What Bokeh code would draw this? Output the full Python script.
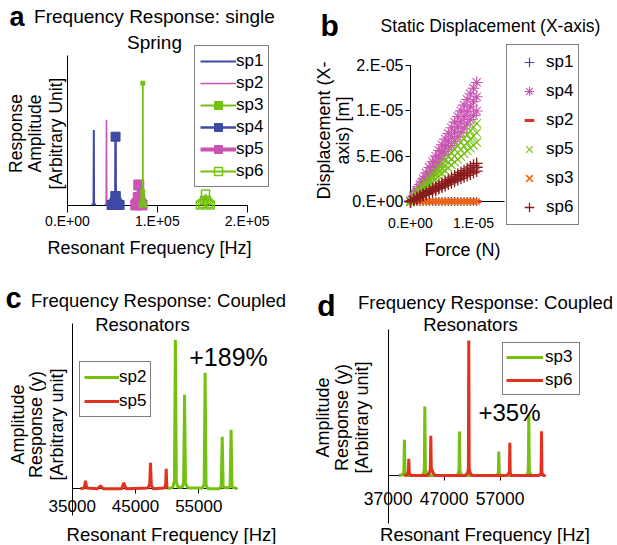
import math
from bokeh.plotting import figure
from bokeh.models import (Range1d, FixedTicker, Label, Legend, LegendItem,
                          CustomJSTickFormatter)
from bokeh.layouts import column, row
from bokeh.embed import file_html
from bokeh.resources import INLINE

FONT = "Liberation Sans"
BLUE = "#3f4aa6"
PINK = "#c955b3"
GREEN = "#74c112"
RED = "#e2321f"
ORANGE = "#f26a10"
DARKRED = "#8b1c1c"

# ---------------- Panel a: single spring frequency response ----------------
a_tick_values = [0, 100000, 200000]
a_tick_labels = ["0.E+00", "1.E+05", "2.E+05"]
a_sp1_freq = [27000, 29000, 29300, 29600, 31500]
a_sp1_amp = [0, 0.01, 0.502, 0.01, 0]
a_sp2_freq = [41500, 43100, 43400, 43700, 45500]
a_sp2_amp = [0, 0.01, 0.571, 0.01, 0]
a_sp3_freq = [82000, 83600, 83850, 83900, 83950, 84200, 86000]
a_sp3_amp = [0, 0.02, 0.089, 0.815, 0.05, 0.01, 0]
a_sp4_freq = [49000, 51000, 52500, 53300, 53500, 53700, 54500, 56000, 58000]
a_sp4_amp = [0, 0.005, 0.02, 0.06, 0.457, 0.06, 0.02, 0.005, 0]
a_sp5_freq = [76000, 77500, 78800, 79400, 80000, 81500, 83000]
a_sp5_amp = [0, 0.01, 0.05, 0.134, 0.05, 0.01, 0]
a_sp6_freq = [148000, 150500, 152500, 153700, 155000, 157000, 159000]
a_sp6_amp = [0, 0.01, 0.03, 0.073, 0.03, 0.01, 0]

# ---------------- Panel b: static displacement (micro units) ----------------
b_xtick_values = [0, 1e-5]
b_xtick_labels = ["0.E+00", "1.E-05"]
b_ytick_values = [0, 5e-6, 1e-5, 1.5e-5]
b_ytick_labels = ["0.E+00", "5.E-06", "1.E-05", "2.E-05"]
b_force_uN = [0, 0.5, 1, 1.5, 2, 2.5, 3, 3.5, 4, 4.5, 5, 5.5, 6, 6.5, 7, 7.5, 8, 8.5, 9, 9.5, 10, 10.5]
b_sp1_disp_um = [0, 0, 0, 0, 0, 0, 0, 0, 0, 0, 0, 0, 0, 0, 0, 0, 0, 0, 0, 0, 0, 0]
b_sp2_disp_um = [0, 0, 0, 0, 0, 0, 0, 0, 0, 0, 0, 0, 0, 0, 0, 0, 0, 0, 0, 0, 0, 0]
b_sp3_disp_um = [0, 0, 0, 0, 0, 0, 0, 0, 0, 0, 0, 0, 0, 0, 0, 0, 0, 0, 0, 0, 0, 0]
b_sp4_low_um = [0, 0.48, 0.95, 1.43, 1.90, 2.38, 2.85, 3.33, 3.80, 4.28, 4.75, 5.23, 5.70,
                6.18, 6.65, 7.13, 7.60, 8.08, 8.55, 9.03, 9.50, 9.98]
b_sp4_mid_um = [0, 0.55, 1.10, 1.65, 2.20, 2.75, 3.30, 3.85, 4.40, 4.95, 5.50, 6.05, 6.60,
                7.15, 7.70, 8.25, 8.80, 9.35, 9.90, 10.45, 11.00, 11.55]
b_sp4_high_um = [0, 0.63, 1.25, 1.88, 2.50, 3.13, 3.75, 4.38, 5.00, 5.63, 6.25, 6.88, 7.50,
                 8.13, 8.75, 9.38, 10.00, 10.63, 11.25, 11.88, 12.50, 13.13]
b_sp5_low_um = [0, 0.31, 0.62, 0.93, 1.24, 1.55, 1.86, 2.17, 2.48, 2.79, 3.10, 3.41, 3.72,
                4.03, 4.34, 4.65, 4.96, 5.27, 5.58, 5.89, 6.20, 6.51]
b_sp5_mid_um = [0, 0.36, 0.72, 1.08, 1.44, 1.80, 2.16, 2.52, 2.88, 3.24, 3.60, 3.96, 4.32,
                4.68, 5.04, 5.40, 5.76, 6.12, 6.48, 6.84, 7.20, 7.56]
b_sp5_high_um = [0, 0.41, 0.82, 1.23, 1.64, 2.05, 2.46, 2.87, 3.28, 3.69, 4.10, 4.51, 4.92,
                 5.33, 5.74, 6.15, 6.56, 6.97, 7.38, 7.79, 8.20, 8.61]
b_sp6_low_um = [0, 0.16, 0.32, 0.48, 0.64, 0.80, 0.96, 1.12, 1.28, 1.44, 1.60, 1.76, 1.92,
                2.08, 2.24, 2.40, 2.56, 2.72, 2.88, 3.04, 3.20, 3.36]
b_sp6_mid_um = [0, 0.18, 0.36, 0.54, 0.72, 0.90, 1.08, 1.26, 1.44, 1.62, 1.80, 1.98, 2.16,
                2.34, 2.52, 2.70, 2.88, 3.06, 3.24, 3.42, 3.60, 3.78]
b_sp6_high_um = [0, 0.20, 0.40, 0.60, 0.80, 1.00, 1.20, 1.40, 1.60, 1.80, 2.00, 2.20, 2.40,
                 2.60, 2.80, 3.00, 3.20, 3.40, 3.60, 3.80, 4.00, 4.20]

# ---------------- Panel c: coupled resonators sp2 / sp5 ----------------
c_tick_values = [35000, 45000, 55000]
c_tick_labels = ["35000", "45000", "55000"]
c_sp5_freq = [36300, 36900, 37100, 37300, 39000, 39470, 39900, 42800, 43150, 43500,
              47000, 47250, 47370, 47500, 47800, 49600, 49780, 49850, 49950, 50200]
c_sp5_amp = [0, 0.005, 0.048, 0.005, 0, 0.018, 0, 0, 0.036, 0,
             0.005, 0.03, 0.158, 0.02, 0, 0.005, 0.03, 0.121, 0.01, 0]
c_sp2_freq = [50200, 50900, 51150, 51300, 51450, 51700, 52400, 52600, 52750, 52900, 53300,
              55600, 55850, 56000, 56150, 56500, 58300, 58550, 58700, 58850, 59700,
              59950, 60100, 60250, 61070]
c_sp2_amp = [0, 0.01, 0.05, 0.903, 0.04, 0.01, 0.01, 0.04, 0.570, 0.03, 0.005,
             0.005, 0.03, 0.703, 0.02, 0, 0, 0.02, 0.315, 0.01, 0.005,
             0.02, 0.358, 0.01, 0]

# ---------------- Panel d: coupled resonators sp3 / sp6 ----------------
d_tick_values = [37000, 47000, 57000]
d_tick_labels = ["37000", "47000", "57000"]
d_sp3_freq = [38900, 39600, 39800, 39900, 40000, 40300, 43100, 43350, 43450, 43540, 43650, 44000,
              49300, 49550, 49650, 49730, 49820, 50100, 56300, 56600, 56680, 56750, 56830, 57100,
              61700, 61950, 62030, 62110, 62200, 62500]
d_sp3_amp = [0, 0.005, 0.03, 0.245, 0.02, 0, 0, 0.02, 0.05, 0.473, 0.04, 0,
             0, 0.02, 0.04, 0.301, 0.03, 0, 0, 0.01, 0.03, 0.164, 0.02, 0,
             0, 0.02, 0.05, 0.42, 0.03, 0]
d_sp6_freq = [39800, 40400, 40600, 40680, 40760, 41000, 44000, 44400, 44520, 44610, 44700, 45000,
              45400, 50800, 51200, 51320, 51390, 51460, 51600, 52000, 58200, 58600, 58650, 58720,
              58790, 59000, 63900, 64250, 64300, 64380, 64450, 64700, 65100]
d_sp6_amp = [0, 0.005, 0.03, 0.114, 0.02, 0, 0, 0.02, 0.05, 0.272, 0.05, 0.02,
             0, 0, 0.02, 0.05, 0.925, 0.05, 0.02, 0, 0, 0.02, 0.03, 0.224,
             0.02, 0, 0, 0.01, 0.03, 0.303, 0.02, 0, 0]

FMT = """
for (let i = 0; i < tv.length; i++) {
  if (Math.abs(tv[i] - tick) <= 1e-9 * Math.max(Math.abs(tv[i]), 1e-12)) { return tl[i]; }
}
return "";
"""

BASE_K = 0.33   # correction of the baseline placement (fraction of font size)


def new_fig(ox, oy, w, h, xanchor, yanchor):
    """Frame covers the whole canvas; anchors are (page_px, value, px_per_unit)."""
    fl, fr, ft, fb = ox, ox + w, oy, oy + h
    xp, xv, xs = xanchor
    yp, yv, ys = yanchor
    xr = Range1d(xv - (xp - fl) / xs, xv + (fr - xp) / xs)
    yr = Range1d(yv - (fb - yp) / ys, yv + (yp - ft) / ys)
    p = figure(width=w, height=h, x_range=xr, y_range=yr, output_backend="svg",
               toolbar_location=None, min_border=0, min_border_left=0,
               min_border_right=0, min_border_top=0, min_border_bottom=0)
    p.grid.visible = False
    p.outline_line_color = None
    p.background_fill_color = "white"
    p.border_fill_color = "white"
    return p


def style_axis(ax, ticks, labels, size, tick_out, standoff, loc, bounds):
    ax.fixed_location = loc
    ax.bounds = bounds
    ax.ticker = FixedTicker(ticks=ticks)
    if ticks:
        ax.formatter = CustomJSTickFormatter(args=dict(tv=ticks, tl=labels), code=FMT)
        ax.major_label_text_font_size = f"{size}px"
    else:
        ax.major_label_text_font_size = "0px"
    ax.major_label_text_font = FONT
    ax.major_label_text_color = "black"
    ax.major_tick_out = tick_out
    ax.major_tick_in = 0
    ax.minor_tick_line_color = None
    ax.major_label_standoff = standoff
    ax.axis_line_color = "black"
    ax.axis_line_width = 1
    ax.major_tick_line_color = "black"
    ax.level = "underlay"


def add_text(p, ox, oy, x, y, text, size, align="left", angle=0.0, bold=False):
    """x, y: page position of the text's alphabetic baseline anchor."""
    if angle:
        x = x - BASE_K * size
    else:
        y = y - BASE_K * size
    p.add_layout(Label(x=x - ox, y=y - oy, x_units="canvas", y_units="canvas",
                       text=text, text_font=FONT, text_font_size=f"{size}px",
                       text_align=align, text_baseline="alphabetic", angle=angle,
                       text_font_style="bold" if bold else "normal",
                       text_color="black"))


def make_legend(items, loc, size, glyph_w, item_h, spacing, padding, label_w, standoff):
    return Legend(items=items, location=loc, label_text_font=FONT,
                  label_text_font_size=f"{size}px", label_text_color="black",
                  glyph_width=glyph_w, glyph_height=item_h, label_height=item_h,
                  label_width=label_w, label_standoff=standoff, spacing=spacing,
                  padding=padding, margin=0,
                  border_line_color="black", border_line_width=1,
                  background_fill_color="white", background_fill_alpha=1.0)


# ======================= Panel a =======================
ox, oy, w, h = 0, 0, 305, 270
pa = new_fig(ox, oy, w, h, (67, 0, 89.8 / 1e5), (204.5, 0, 149.5))
style_axis(pa.xaxis[0], a_tick_values, a_tick_labels, 14, 7, 1, 0, (0, 200000))
style_axis(pa.yaxis[0], [], [], 1, 0, 0, 0, (0, 1))

ra1 = pa.line(a_sp1_freq, a_sp1_amp, line_color=BLUE, line_width=2)
ra2 = pa.line(a_sp2_freq, a_sp2_amp, line_color=PINK, line_width=1.6)
ra4l = pa.line(a_sp4_freq, a_sp4_amp, line_color=BLUE, line_width=2.5)
ra4m = pa.scatter(a_sp4_freq, a_sp4_amp, marker="square", size=9, color=BLUE)
ra5l = pa.line(a_sp5_freq, a_sp5_amp, line_color=PINK, line_width=4)
ra5m = pa.scatter(a_sp5_freq, a_sp5_amp, marker="square", size=10, color=PINK)
ra3l = pa.line(a_sp3_freq, a_sp3_amp, line_color=GREEN, line_width=1.8)
ra3m = pa.scatter(a_sp3_freq, a_sp3_amp, marker="square", size=4, color=GREEN)
ra6l = pa.line(a_sp6_freq, a_sp6_amp, line_color=GREEN, line_width=1.8)
ra6m = pa.scatter(a_sp6_freq, a_sp6_amp, marker="square", size=8, line_color=GREEN,
                  fill_color=None, line_width=1.5)
pa.add_layout(make_legend([
    LegendItem(label="sp1", renderers=[ra1]),
    LegendItem(label="sp2", renderers=[ra2]),
    LegendItem(label="sp3", renderers=[ra3l, ra3m]),
    LegendItem(label="sp4", renderers=[ra4l, ra4m]),
    LegendItem(label="sp5", renderers=[ra5l, ra5m]),
    LegendItem(label="sp6", renderers=[ra6l, ra6m]),
], (194, 83), 17, 36, 20, 2, 5, 27, 0))

add_text(pa, ox, oy, 9, 25, "a", 27, bold=True)
add_text(pa, ox, oy, 154, 22.5, "Frequency Response: single", 19, align="center")
add_text(pa, ox, oy, 154, 48, "Spring", 19, align="center")
add_text(pa, ox, oy, 149, 253, "Resonant Frequency [Hz]", 18, align="center")
for bx, t in zip([21.2, 40, 61], ["Response", "Amplitude", "[Arbitrary Unit]"]):
    add_text(pa, ox, oy, bx, 133, t, 17.5, align="center", angle=math.pi / 2)

# ======================= Panel b =======================
ox, oy, w, h = 305, 0, 311, 270
pb = new_fig(ox, oy, w, h, (410, 0, 63 / 1e-5), (201, 0, 45.33 / 5e-6))
style_axis(pb.xaxis[0], b_xtick_values, b_xtick_labels, 14, 4, 9, 0, (0, 1.49e-5))
style_axis(pb.yaxis[0], b_ytick_values, b_ytick_labels, 16, 5, 2, 0, (-6.6e-7, 1.5e-5))

fb_ = [f * 1e-6 for f in b_force_uN]
um = 1e-6
rb1 = pb.scatter(fb_, [d * um for d in b_sp1_disp_um], marker="cross", size=9,
                 line_color=BLUE, line_width=1.2)
rb2 = pb.scatter(fb_, [d * um for d in b_sp2_disp_um], marker="dash", size=9,
                 line_color=RED, line_width=3)
rb3 = pb.scatter(fb_, [d * um for d in b_sp3_disp_um], marker="x", size=9,
                 line_color=ORANGE, line_width=1.5)
rb4 = pb.scatter(fb_ * 3, [d * um for d in b_sp4_low_um + b_sp4_mid_um + b_sp4_high_um],
                 marker="asterisk", size=12, line_color=PINK, line_width=1.1)
rb5 = pb.scatter(fb_ * 3, [d * um for d in b_sp5_low_um + b_sp5_mid_um + b_sp5_high_um],
                 marker="x", size=12, line_color=GREEN, line_width=1.1)
rb6 = pb.scatter(fb_ * 3, [d * um for d in b_sp6_low_um + b_sp6_mid_um + b_sp6_high_um],
                 marker="cross", size=12, line_color=DARKRED, line_width=1.3)
pb.add_layout(make_legend([
    LegendItem(label="sp1", renderers=[rb1]),
    LegendItem(label="sp4", renderers=[rb4]),
    LegendItem(label="sp2", renderers=[rb2]),
    LegendItem(label="sp5", renderers=[rb5]),
    LegendItem(label="sp3", renderers=[rb3]),
    LegendItem(label="sp6", renderers=[rb6]),
], (201, 45), 17, 34, 24, 5, 5, 27, 0))

add_text(pb, ox, oy, 320, 35, "b", 30, bold=True)
add_text(pb, ox, oy, 490, 31.5, "Static Displacement (X-axis)", 17.5, align="center")
add_text(pb, ox, oy, 462, 255, "Force (N)", 18, align="center")
for bx, t in zip([329.6, 348], ["Displacement (X-", "axis) [m]"]):
    add_text(pb, ox, oy, bx, 130, t, 18, align="center", angle=math.pi / 2)

# ======================= Panel c =======================
ox, oy, w, h = 0, 270, 305, 274
pc = new_fig(ox, oy, w, h, (71.7, 35000, 6.33 / 1000), (488.3, 0, 165))
style_axis(pc.xaxis[0], c_tick_values, c_tick_labels, 17, 5, 6, 0, (35000, 61070))
style_axis(pc.yaxis[0], [], [], 1, 0, 0, 35000, (-0.161, 1.0036))

rc5 = pc.line(c_sp5_freq, c_sp5_amp, line_color=RED, line_width=3)
rc2 = pc.line(c_sp2_freq, c_sp2_amp, line_color=GREEN, line_width=3)
pc.add_layout(make_legend([
    LegendItem(label="sp2", renderers=[rc2]),
    LegendItem(label="sp5", renderers=[rc5]),
], (79, 127), 17, 35, 22, 2, 4, 26, 0))

add_text(pc, ox, oy, 5, 306.7, "c", 29, bold=True)
add_text(pc, ox, oy, 158, 306.5, "Frequency Response: Coupled", 18.5, align="center")
add_text(pc, ox, oy, 142, 330, "Resonators", 18.5, align="center")
add_text(pc, ox, oy, 171, 540, "Resonant Frequency [Hz]", 18.5, align="center")
add_text(pc, ox, oy, 228, 365, "+189%", 25, align="center")
for bx, t in zip([23, 41.3, 62.5], ["Amplitude", "Response (y)", "[Arbitrary unit]"]):
    add_text(pc, ox, oy, bx, 424, t, 18, align="center", angle=math.pi / 2)

# ======================= Panel d =======================
ox, oy, w, h = 305, 270, 311, 274
pd_ = new_fig(ox, oy, w, h, (387.7, 37000, 5.6 / 1000), (475, 0, 146))
style_axis(pd_.xaxis[0], d_tick_values, d_tick_labels, 17.5, 5, 11, 0, (37000, 65100))
style_axis(pd_.yaxis[0], [], [], 1, 0, 0, 37000, (-0.329, 1.0))

rd3 = pd_.line(d_sp3_freq, d_sp3_amp, line_color=GREEN, line_width=3)
rd6 = pd_.line(d_sp6_freq, d_sp6_amp, line_color=RED, line_width=3)
pd_.add_layout(make_legend([
    LegendItem(label="sp3", renderers=[rd3]),
    LegendItem(label="sp6", renderers=[rd6]),
], (197, 149), 17, 37, 22, 1, 3, 31, 2))

add_text(pd_, ox, oy, 316.7, 315, "d", 30, bold=True)
add_text(pd_, ox, oy, 485, 308, "Frequency Response: Coupled", 18.5, align="center")
add_text(pd_, ox, oy, 470, 330.5, "Resonators", 18.5, align="center")
add_text(pd_, ox, oy, 484.5, 540, "Resonant Frequency [Hz]", 18.5, align="center")
add_text(pd_, ox, oy, 509, 420, "+35%", 24, align="center")
for bx, t in zip([328, 347.2, 367.5], ["Amplitude", "Response (y)", "[Arbitrary unit]"]):
    add_text(pd_, ox, oy, bx, 417, t, 18, align="center", angle=math.pi / 2)

layout = column(row(pa, pb), row(pc, pd_))
open("out.html", "w").write(file_html(layout, INLINE))
